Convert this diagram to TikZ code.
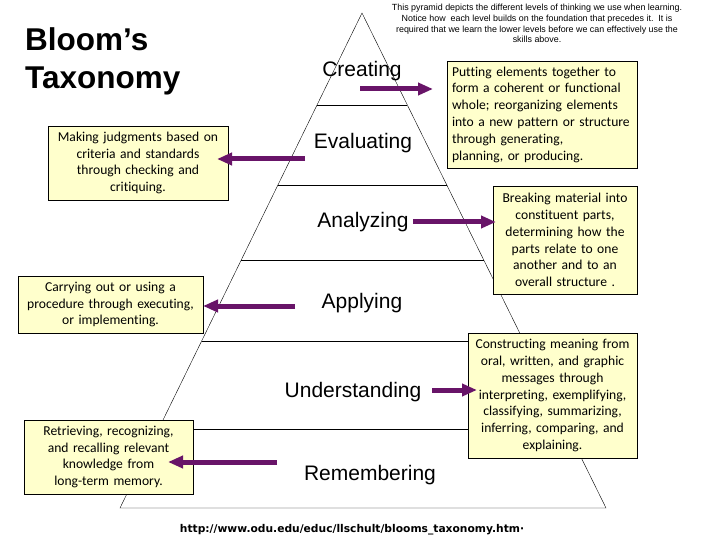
\documentclass[tikz,border=0pt]{standalone}
\usepackage{fontspec}
\setmainfont{Liberation Sans}
\newfontfamily\notefont[Ligatures=NoCommon]{Carlito}
\newfontfamily\urlfont{DejaVu Sans}
\usetikzlibrary{arrows.meta,calc}

\definecolor{notefill}{RGB}{255,255,204}
\definecolor{arrowpurple}{RGB}{104,20,104}

\begin{document}
\begin{tikzpicture}[x=1pt, y=-1pt,
  note/.style={draw, fill=notefill, inner sep=3pt, align=center,
    font=\notefont\fontsize{13.6}{16.8}\selectfont},
  level/.style={anchor=base, inner sep=0pt, font=\fontsize{21}{25}\selectfont},
  bigarrow/.style={draw=arrowpurple, line width=5pt, -{Triangle[length=15pt,width=12pt]}}]
  \useasboundingbox[fill=white] (0,0) rectangle (720,540);

  % pyramid
  \coordinate (apex) at (362,13);
  \coordinate (bl)   at (120,508);
  \coordinate (br)   at (606,508);
  \draw (bl) -- (apex) -- (br) -- cycle;
  \foreach \t in {0.186,0.348,0.499,0.663,0.840}
    \draw ($(apex)!\t!(bl)$) -- ($(apex)!\t!(br)$);

  % levels
  \node[level] (cre) at (362,77)  {Creating};
  \node[level] (eva) at (363,149) {Evaluating};
  \node[level] (ana) at (363,228) {Analyzing};
  \node[level] (app) at (362,308) {Applying};
  \node[level] (und) at (353,397) {Understanding};
  \node[level] (rem) at (370,480) {Remembering};

  % title and notes
  \node[anchor=north west, inner sep=0pt, align=left,
    font=\bfseries\fontsize{31.5}{38}\selectfont] (title) at (25,27) {Bloom’s\\Taxonomy};
  \node[anchor=north, inner sep=0pt, align=center,
    font=\fontsize{8.9}{10.7}\selectfont] (intro) at (537,4)
    {This pyramid depicts the different levels of thinking we use when learning.\\
     Notice how\ \ each level builds on the foundation that precedes it.\ \ It is\\
     required that we learn the lower levels before we can effectively use the\\
     skills above.};
  \node[font=\urlfont\bfseries\fontsize{10.7}{12}\selectfont, inner sep=0pt, anchor=base]
    (url) at (352,532) {http://www.odu.edu/educ/llschult/blooms\_taxonomy.htm·};

  \node[note, align=left, minimum width=190, minimum height=107, text width=180]
    (crebox) at (542,114.5) {Putting elements together to\\ form a coherent or functional\\
    whole; reorganizing elements\\ into a new pattern or structure\\ through generating,\\
    planning, or producing.};
  \node[note, minimum width=180, minimum height=74, text width=174]
    (evabox) at (138,163) {Making judgments based on\\ criteria and standards\\
    through checking and\\ critiquing.};
  \node[note, minimum width=144, minimum height=108, text width=138]
    (anabox) at (565,240) {Breaking material into\\ constituent parts,\\ determining how the\\
    parts relate to one\\ another and to an\\ overall structure .};
  \node[note, minimum width=185, minimum height=57, text width=179]
    (appbox) at (110.5,304.5) {Carrying out or using a\\ procedure through executing,\\
    or implementing.};
  \node[note, minimum width=169, minimum height=125, text width=163]
    (undbox) at (552.5,395.5) {Constructing meaning from\\ oral, written, and graphic\\
    messages through\\ interpreting, exemplifying,\\ classifying, summarizing,\\
    inferring, comparing, and\\ explaining.};
  \node[note, minimum width=169, minimum height=74, text width=163]
    (rembox) at (108.5,457) {Retrieving, recognizing,\\ and recalling relevant\\
    knowledge from\\ long-term memory.};

  % arrows
  \coordinate (creA) at (360,89);  \coordinate (creB) at (433,89);
  \coordinate (evaA) at (305,159); \coordinate (evaB) at (217,159);
  \coordinate (anaA) at (413,222); \coordinate (anaB) at (496,222);
  \coordinate (appA) at (295,306); \coordinate (appB) at (203,306);
  \coordinate (undA) at (432,390); \coordinate (undB) at (477,390);
  \coordinate (remA) at (277,462); \coordinate (remB) at (168,462);
  \foreach \n in {cre,eva,ana,app,und,rem}
    \draw[bigarrow] (\n A) -- (\n B);
\end{tikzpicture}
\end{document}
